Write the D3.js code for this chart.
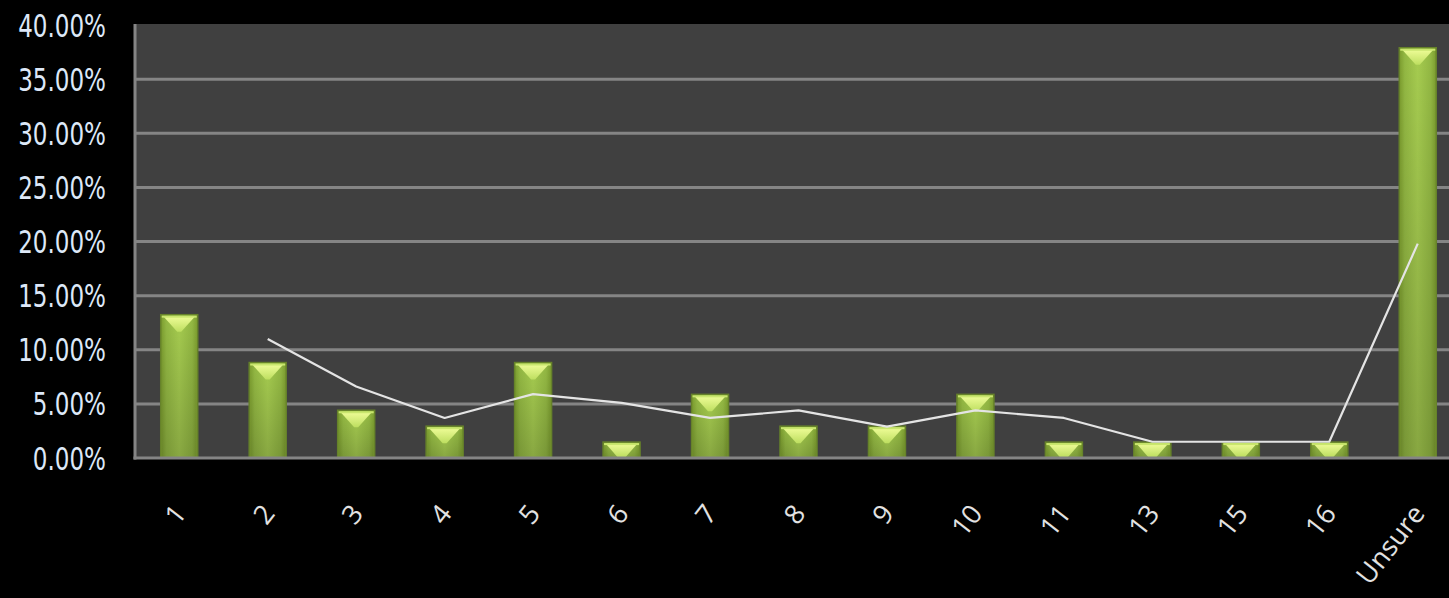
<!DOCTYPE html>
<html>
<head>
<meta charset="utf-8">
<script src="https://cdn.jsdelivr.net/npm/d3@7"></script>
<style>
  html, body { margin: 0; padding: 0; background: #000; overflow: hidden; }
  svg { display: block; }
</style>
</head>
<body>
<svg id="chart" width="1449" height="598"></svg>
<script>
// Data (percent of respondents)
const categories = ["1","2","3","4","5","6","7","8","9","10","11","13","15","16","Unsure"];
const barValues  = [13.24, 8.82, 4.41, 2.94, 8.82, 1.47, 5.88, 2.94, 2.94, 5.88, 1.47, 1.47, 1.47, 1.47, 37.9];
// trend line (2-period moving average as drawn in the picture)
const lineValues = [null, 11.0, 6.6, 3.7, 5.9, 5.1, 3.7, 4.4, 2.9, 4.4, 3.7, 1.5, 1.5, 1.5, 19.8];
const yTicks = [0, 5, 10, 15, 20, 25, 30, 35, 40];

const svg = d3.select("#chart");
const W = 1449, H = 598;
const plot = { left: 135, top: 24, right: 1462, bottom: 458 };

const x = d3.scalePoint().domain(categories).range([plot.left, plot.right]).padding(0.5);
const y = d3.scaleLinear().domain([0, 40]).range([plot.bottom, 25]);
const barW = 37;

// defs
const defs = svg.append("defs");
const g1 = defs.append("linearGradient").attr("id", "barGrad").attr("x1", "0").attr("x2", "1").attr("y1", "0").attr("y2", "0");
g1.append("stop").attr("offset", "0%").attr("stop-color", "#7b9c2e");
g1.append("stop").attr("offset", "15%").attr("stop-color", "#93b843");
g1.append("stop").attr("offset", "50%").attr("stop-color", "#a6cc50");
g1.append("stop").attr("offset", "85%").attr("stop-color", "#93b843");
g1.append("stop").attr("offset", "100%").attr("stop-color", "#7b9c2e");
const g2 = defs.append("linearGradient").attr("id", "barVert").attr("x1", "0").attr("x2", "0").attr("y1", "0").attr("y2", "1");
g2.append("stop").attr("offset", "0%").attr("stop-color", "#000").attr("stop-opacity", 0);
g2.append("stop").attr("offset", "100%").attr("stop-color", "#000").attr("stop-opacity", 0.18);
const g3 = defs.append("linearGradient").attr("id", "hiGrad").attr("x1", "0").attr("x2", "0").attr("y1", "0").attr("y2", "1");
g3.append("stop").attr("offset", "0%").attr("stop-color", "#f2ff9a");
g3.append("stop").attr("offset", "100%").attr("stop-color", "#bfe061");

// plot background
svg.append("rect")
  .attr("x", plot.left).attr("y", plot.top)
  .attr("width", W - plot.left).attr("height", plot.bottom - plot.top)
  .attr("fill", "#404040");

// gridlines
svg.append("g").selectAll("line").data(yTicks.filter(d => d > 0 && d < 40)).join("line")
  .attr("x1", plot.left).attr("x2", W)
  .attr("y1", d => y(d)).attr("y2", d => y(d))
  .attr("stroke", "#858585").attr("stroke-width", 3);

// bars
const bars = svg.append("g").selectAll("g").data(categories.map((c, i) => ({ c, v: barValues[i] }))).join("g");
bars.append("rect")
  .attr("x", d => x(d.c) - barW / 2).attr("y", d => y(d.v))
  .attr("width", barW).attr("height", d => y(0) - y(d.v))
  .attr("fill", "url(#barGrad)")
  .attr("stroke", "#66822a").attr("stroke-width", 1.5);
bars.append("rect")
  .attr("x", d => x(d.c) - barW / 2 + 1).attr("y", d => y(d.v))
  .attr("width", barW - 2).attr("height", d => y(0) - y(d.v))
  .attr("fill", "url(#barVert)");
// top bevel highlight
bars.append("path")
  .attr("d", d => {
    const cx = x(d.c), t = y(d.v);
    const h = Math.min(15, (y(0) - t) - 3);
    const half = barW / 2 - 3;
    const tip = Math.max(2, half * (1 - h / 15) + 2);
    return `M${cx - half},${t + 2} L${cx + half},${t + 2} L${cx + tip},${t + 2 + h} L${cx - tip},${t + 2 + h} Z`;
  })
  .attr("fill", "url(#hiGrad)")
  .attr("opacity", 0.95);
bars.append("rect")
  .attr("x", d => x(d.c) - barW / 2 + 1).attr("y", d => y(d.v) + 1)
  .attr("width", barW - 2).attr("height", 2)
  .attr("fill", "#c9e66e");

// axes lines
svg.append("line").attr("x1", plot.left).attr("x2", plot.left)
  .attr("y1", plot.top).attr("y2", plot.bottom + 1.5)
  .attr("stroke", "#858585").attr("stroke-width", 3);
svg.append("line").attr("x1", plot.left - 1.5).attr("x2", W)
  .attr("y1", y(0)).attr("y2", y(0))
  .attr("stroke", "#858585").attr("stroke-width", 3);

// trend line
const line = d3.line()
  .defined(d => d.v != null)
  .x(d => x(d.c)).y(d => y(d.v));
svg.append("path")
  .datum(categories.map((c, i) => ({ c, v: lineValues[i] })))
  .attr("d", line)
  .attr("fill", "none")
  .attr("stroke", "#e4e4e4").attr("stroke-width", 2.2)
  .attr("stroke-linejoin", "round");

// y axis labels
const yAxis = d3.axisLeft(y).tickValues(yTicks).tickFormat(d => d.toFixed(2) + "%").tickSize(0).tickPadding(0);
const ya = svg.append("g").attr("transform", "translate(106,0)").call(yAxis);
ya.select(".domain").remove();
ya.selectAll(".tick").attr("transform", d => `translate(0,${y(d)}) scale(0.72,1)`);
ya.selectAll("text")
  .attr("fill", "#dde8f8")
  .attr("x", 0)
  .attr("dy", "0.36em")
  .style("font-family", "'DejaVu Sans',sans-serif")
  .style("font-size", "32px");

// x axis labels
const xAxis = d3.axisBottom(x).tickSize(0).tickPadding(0);
const xa = svg.append("g").call(xAxis);
xa.select(".domain").remove();
xa.selectAll(".tick").attr("transform", d => `translate(${x(d) - 7},502)`);
xa.selectAll("text")
  .attr("y", 0).attr("x", 0).attr("dy", "0.72em")
  .attr("text-anchor", "end")
  .attr("transform", "rotate(-52)")
  .attr("fill", "#e2e2e2")
  .style("font-family", "'Open Sans',sans-serif")
  .style("font-size", "27px");
</script>
</body>
</html>
